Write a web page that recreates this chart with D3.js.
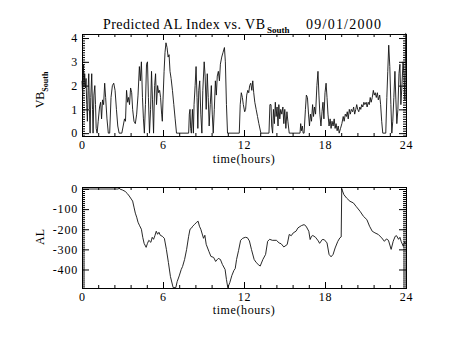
<!DOCTYPE html>
<html><head><meta charset="utf-8">
<script src="https://cdn.jsdelivr.net/npm/d3@7"></script>
<style>body{margin:0;background:#fff}svg{display:block}</style>
</head><body>
<svg id="c" width="454" height="341"></svg>
<script>
// ---- DATA ----
const titleMain = "Predicted AL Index vs. VB";
const titleSub = "South";
const titleDate = "09/01/2000";
const xTicks = [0, 6, 12, 18, 24];
const vbTicks = [0, 1, 2, 3, 4];
const alTicks = [0, -100, -200, -300, -400];
const xLabel = "time(hours)";

const vbHours = [0.00,0.05,0.10,0.15,0.20,0.25,0.30,0.35,0.40,0.45,0.50,0.55,0.60,0.65,0.72,0.78,0.82,0.88,0.95,1.00,1.05,1.12,1.20,1.30,1.38,1.45,1.52,1.60,1.68,1.75,1.85,1.95,2.05,2.15,2.25,2.35,2.45,2.55,2.65,2.75,2.95,3.05,3.15,3.22,3.30,3.38,3.45,3.52,3.60,3.68,3.75,3.85,3.95,4.05,4.15,4.25,4.32,4.40,4.48,4.55,4.62,4.70,4.78,4.85,4.92,5.00,5.08,5.15,5.22,5.30,5.38,5.45,5.52,5.60,5.68,5.75,5.82,5.90,5.95,6.00,6.08,6.15,6.22,6.30,6.38,6.45,6.52,6.60,6.70,6.80,6.90,7.00,7.90,7.95,8.00,8.05,8.10,8.18,8.25,8.30,8.38,8.45,8.52,8.58,8.65,8.72,8.80,8.88,8.95,9.05,9.12,9.20,9.28,9.35,9.42,9.50,9.58,9.65,9.72,9.80,9.88,9.95,10.02,10.10,10.18,10.25,10.35,10.45,10.55,10.62,10.70,10.78,11.65,11.72,11.80,11.88,11.95,12.05,12.12,12.20,12.28,12.35,12.42,12.50,12.58,12.65,12.72,12.80,12.90,13.00,13.10,13.25,13.85,13.92,14.00,14.05,14.12,14.18,14.25,14.32,14.38,14.45,14.52,14.58,14.65,14.72,14.80,14.88,14.95,15.02,15.10,15.18,15.25,15.35,16.15,16.20,16.25,16.32,16.38,16.45,16.55,16.62,16.70,16.78,16.85,16.92,17.00,17.08,17.15,17.22,17.30,17.40,17.48,17.55,17.62,17.70,17.78,17.85,17.92,18.00,18.08,18.15,18.22,18.30,18.38,18.45,18.52,18.60,18.68,18.75,18.82,18.90,18.98,19.05,19.15,19.25,19.35,19.42,19.50,19.58,19.65,19.72,19.80,19.88,19.95,20.05,20.12,20.20,20.28,20.35,20.42,20.50,20.58,20.65,20.72,20.80,20.88,20.95,21.05,21.12,21.20,21.28,21.35,21.42,21.50,21.58,21.65,21.72,21.80,21.88,21.95,22.05,22.12,22.20,22.28,22.50,22.58,22.65,22.72,22.80,22.88,22.95,23.02,23.10,23.18,23.25,23.32,23.40,23.48,23.55,23.62,23.70,23.78,23.85,23.92,23.98,24.00];
const vbValues = [2.2,1.6,2.9,2.0,2.5,1.9,2.3,1.2,0.5,1.8,2.5,1.0,0.0,1.5,2.5,1.0,0.0,1.6,2.0,1.2,0.2,0.0,0.5,1.1,1.3,0.6,1.4,1.2,2.1,1.5,0.6,0.0,0.0,1.5,2.0,2.1,1.8,1.0,0.3,0.0,0.0,0.3,0.6,0.5,1.8,1.3,1.5,1.2,1.9,1.7,1.0,0.5,0.4,0.8,1.6,2.8,2.2,3.0,1.5,0.6,0.0,1.2,2.9,3.0,1.5,0.0,1.0,2.6,1.4,0.0,2.0,2.5,1.2,2.0,1.7,1.8,1.5,0.8,0.5,1.4,2.6,3.4,3.8,3.6,3.2,3.3,2.6,2.3,1.8,1.2,0.6,0.0,0.0,0.8,1.0,0.2,0.0,1.0,0.0,1.2,2.0,2.8,1.5,0.2,1.8,2.2,0.8,0.0,1.8,3.0,2.4,1.0,2.5,1.5,0.3,1.2,2.0,0.8,0.0,1.0,2.2,1.6,2.4,2.6,2.2,2.9,3.2,3.4,3.6,3.0,1.2,0.0,0.0,1.2,1.7,1.5,1.2,0.9,1.0,1.6,1.8,1.7,2.0,2.1,1.8,2.2,1.7,1.3,1.0,0.7,0.4,0.0,0.0,1.2,1.2,0.3,0.0,1.0,0.4,1.3,0.7,1.1,0.3,1.2,0.6,1.0,0.8,1.1,0.4,1.0,0.2,0.9,0.5,0.0,0.0,0.4,0.1,0.3,0.0,0.0,1.0,1.6,1.5,0.8,0.3,0.8,0.5,1.2,0.7,1.1,0.8,2.0,2.6,1.6,0.8,0.3,0.9,1.3,0.6,1.7,2.1,1.5,0.8,0.3,0.6,0.2,0.5,0.3,0.6,0.2,0.4,0.1,0.3,0.0,0.2,0.4,0.7,0.5,0.8,0.7,0.9,0.6,1.0,0.8,1.0,0.9,1.1,0.8,1.0,1.2,1.0,0.9,1.1,1.0,1.2,1.1,1.3,1.2,1.3,1.1,1.3,1.2,1.5,1.3,1.5,1.8,1.6,1.7,1.5,1.7,1.4,1.6,1.2,0.5,0.0,0.0,1.5,2.6,3.7,2.8,1.2,0.0,0.5,1.5,2.6,1.4,0.4,1.0,2.5,2.9,1.2,2.0,3.0,2.5,1.4,4.2,4.2];

const alHours = [0.00,2.70,2.75,2.80,3.00,3.20,3.35,3.50,3.65,3.75,3.85,3.95,4.05,4.15,4.25,4.40,4.50,4.60,4.75,4.85,4.95,5.10,5.20,5.30,5.40,5.50,5.60,5.70,5.80,5.95,6.10,6.25,6.40,6.55,6.75,6.95,7.05,7.20,7.35,7.45,7.60,7.75,7.90,8.00,8.10,8.20,8.35,8.50,8.60,8.70,8.80,9.00,9.10,9.20,9.40,9.55,9.75,9.90,10.00,10.10,10.25,10.40,10.60,10.70,10.80,10.95,11.10,11.25,11.35,11.45,11.60,11.75,11.90,12.10,12.25,12.40,12.55,12.75,12.90,13.05,13.20,13.40,13.60,13.75,13.90,14.10,14.40,14.60,14.75,14.95,15.20,15.35,15.50,15.65,15.85,16.00,16.25,16.45,16.60,16.80,16.90,17.00,17.10,17.30,17.50,17.60,17.80,17.95,18.15,18.30,18.45,18.60,18.75,18.95,19.10,19.20,19.24,19.40,19.60,19.85,20.10,20.30,20.60,20.85,21.10,21.30,21.50,21.70,21.95,22.20,22.40,22.55,22.70,22.90,23.05,23.20,23.30,23.45,23.55,23.65,23.80,23.90,24.00];
const alValues = [0,0,5,0,-5,-12,-22,-35,-50,-60,-90,-120,-140,-165,-180,-200,-240,-270,-290,-270,-255,-265,-240,-250,-232,-210,-225,-215,-230,-235,-245,-300,-365,-435,-490,-490,-460,-432,-400,-385,-350,-300,-235,-200,-195,-185,-175,-165,-160,-185,-200,-245,-230,-275,-310,-335,-340,-360,-352,-345,-350,-375,-400,-450,-490,-465,-430,-405,-395,-350,-305,-255,-245,-240,-242,-258,-300,-350,-365,-375,-383,-350,-325,-260,-250,-255,-255,-268,-272,-288,-276,-226,-232,-218,-210,-193,-182,-177,-185,-210,-251,-235,-231,-240,-258,-270,-251,-252,-268,-325,-337,-325,-293,-260,-243,-238,0,-28,-45,-61,-69,-86,-111,-136,-152,-185,-210,-218,-226,-243,-260,-248,-255,-300,-260,-235,-232,-250,-240,-262,-285,-262,-275,-270];

// ---- CHART ----
const svg = d3.select("#c");
const serif = "'Liberation Serif', 'Times New Roman', serif";
const X0 = 82, X1 = 406;

function panel(yTop, yBot, yDomain, majorY, minorStep, xLabelY, values, hours, fmt) {
  const x = d3.scaleLinear().domain([0, 24]).range([X0, X1]);
  const y = d3.scaleLinear().domain(yDomain).range([yBot, yTop]);
  const g = svg.append("g");
  const minorX = d3.range(0, 24.001, 1.2);
  const minorY = d3.range(Math.ceil(yDomain[0] / minorStep) * minorStep, yDomain[1] + 1e-9, minorStep);

  const styleAxis = sel => {
    sel.select(".domain").remove();
    sel.selectAll("line").attr("stroke", "#000").attr("stroke-width", 1);
    sel.selectAll("text").attr("font-family", serif).attr("font-size", 12)
      .attr("letter-spacing", 0.8).attr("fill", "#000");
  };
  // x axes
  g.append("g").attr("transform", `translate(0,${yBot})`)
    .call(d3.axisBottom(x).tickValues(xTicks).tickSize(-6).tickPadding(4).tickFormat(d => String(d))).call(styleAxis);
  g.append("g").attr("transform", `translate(0,${yBot})`)
    .call(d3.axisBottom(x).tickValues(minorX).tickSize(-3).tickFormat("")).call(styleAxis);
  g.append("g").attr("transform", `translate(0,${yTop})`)
    .call(d3.axisTop(x).tickValues(xTicks).tickSize(-6).tickFormat("")).call(styleAxis);
  g.append("g").attr("transform", `translate(0,${yTop})`)
    .call(d3.axisTop(x).tickValues(minorX).tickSize(-3).tickFormat("")).call(styleAxis);
  // y axes
  g.append("g").attr("transform", `translate(${X0},0)`)
    .call(d3.axisLeft(y).tickValues(majorY).tickSize(-7).tickPadding(4).tickFormat(fmt)).call(styleAxis);
  g.append("g").attr("transform", `translate(${X0},0)`)
    .call(d3.axisLeft(y).tickValues(minorY).tickSize(-3).tickFormat("")).call(styleAxis);
  g.append("g").attr("transform", `translate(${X1},0)`)
    .call(d3.axisRight(y).tickValues(majorY).tickSize(-7).tickFormat("")).call(styleAxis);
  g.append("g").attr("transform", `translate(${X1},0)`)
    .call(d3.axisRight(y).tickValues(minorY).tickSize(-3).tickFormat("")).call(styleAxis);
  // frame
  g.append("rect").attr("x", X0 + 0.5).attr("y", yTop + 0.5).attr("width", X1 - X0).attr("height", yBot - yTop)
    .attr("fill", "none").attr("stroke", "#000");
  // data line
  const line = d3.line().x((d, i) => x(hours[i])).y(d => y(d));
  g.append("path").datum(values).attr("d", line).attr("fill", "none").attr("stroke", "#111").attr("stroke-width", 0.9);
  // x label
  g.append("text").attr("x", 244).attr("y", xLabelY).attr("text-anchor", "middle")
    .attr("font-family", serif).attr("font-size", 12).attr("letter-spacing", 0.6).text(xLabel);
  return { x, y };
}

panel(34, 136, [-0.12, 4.17], vbTicks, 0.1, 163, vbValues, vbHours, d => String(d));
panel(187, 288, [-492, 10], alTicks, 10, 314, alValues, alHours, d => String(d));

// title
const t = svg.append("text").attr("y", 29).attr("font-family", serif).attr("font-size", 14).attr("fill", "#000");
t.append("tspan").attr("x", 103).attr("textLength", 162).attr("lengthAdjust", "spacing").text(titleMain);
t.append("tspan").attr("x", 267).attr("dy", 4).attr("font-size", 9).attr("font-weight", "bold").text(titleSub);
t.append("tspan").attr("x", 306).attr("dy", -4).attr("textLength", 75).attr("lengthAdjust", "spacing").text(titleDate);

// y labels
const yl = svg.append("text").attr("transform", "translate(44,90) rotate(-90)").attr("text-anchor", "middle")
  .attr("font-family", serif).attr("font-size", 12).attr("fill", "#000");
yl.append("tspan").text("VB");
yl.append("tspan").attr("dy", 4).attr("font-size", 8).attr("font-weight", "bold").text("South");
svg.append("text").attr("transform", "translate(44,237) rotate(-90)").attr("text-anchor", "middle")
  .attr("font-family", serif).attr("font-size", 12).attr("fill", "#000").text("AL");
</script>
</body></html>
